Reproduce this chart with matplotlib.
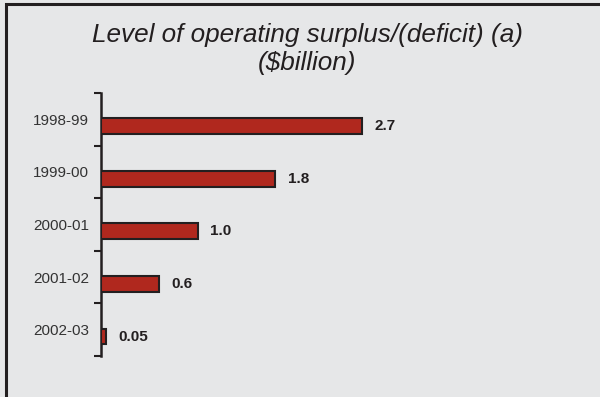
import matplotlib.pyplot as plt
from matplotlib.patches import Rectangle

years = ["1998-99", "1999-00", "2000-01", "2001-02", "2002-03"]
surplus = [2.7, 1.8, 1.0, 0.6, 0.05]
value_labels = ["2.7", "1.8", "1.0", "0.6", "0.05"]

bg = "#E6E7E8"
bar_color = "#B0281E"
ink = "#231F20"

plt.rcParams["font.family"] = ["Liberation Sans", "DejaVu Sans"]

fig = plt.figure(figsize=(6, 3.97), dpi=100, facecolor=bg)

# frame round the panel (only the left and top edges fall inside the image)
fig.patches.append(Rectangle((6 / 600, -0.5), 2, 1 - 4 / 397 + 0.5, transform=fig.transFigure,
                             fill=False, edgecolor=ink, linewidth=2.2, zorder=0))

fig.text(307 / 600, 1 - 35 / 397, "Level of operating surplus/(deficit) (a)", ha="center", va="center",
         fontsize=18.8, style="italic", color=ink)
fig.text(307 / 600, 1 - 63 / 397, "($billion)", ha="center", va="center",
         fontsize=18.8, style="italic", color=ink)

left, right = 101 / 600, 585 / 600
top, bottom = 1 - 93 / 397, 1 - 356 / 397
ax = fig.add_axes([left, bottom, right - left, top - bottom])
ax.set_facecolor(bg)

pos = list(range(len(years)))
# bars sit a little below the middle of each band
bar_pos = [p + 0.13 for p in pos]
ax.barh(bar_pos, surplus, height=0.3, color=bar_color, edgecolor=ink, linewidth=1.5, zorder=3)

for y, v, lab in zip(bar_pos, surplus, value_labels):
    ax.text(v + 0.13, y, lab, ha="left", va="center", fontsize=11, fontweight="bold", color=ink)

ax.set_xlim(0, 5)
ax.set_ylim(len(years) - 0.5, -0.5)
ax.set_yticks([p - 0.5 for p in pos] + [len(years) - 0.5])
ax.set_yticklabels([])
ax.set_yticks(pos, minor=True)
ax.set_yticklabels(years, minor=True, fontsize=11, color="#333333")
ax.tick_params(axis="y", which="major", length=5, width=1.5, color=ink)
ax.tick_params(axis="y", which="minor", length=0, pad=8.5)
ax.set_xticks([])

for side in ["top", "right", "bottom"]:
    ax.spines[side].set_visible(False)
ax.spines["left"].set_linewidth(1.8)
ax.spines["left"].set_color(ink)

fig.savefig("out.png", dpi=100, facecolor=bg)
